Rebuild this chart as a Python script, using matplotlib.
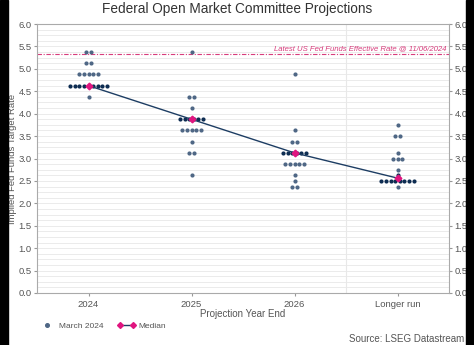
import matplotlib
matplotlib.use("Agg")
import matplotlib.pyplot as plt
from matplotlib.lines import Line2D
from matplotlib.legend_handler import HandlerLine2D
from matplotlib.patches import Rectangle
import numpy as np

plt.rcParams['font.family'] = ['Liberation Sans', 'DejaVu Sans']

# FOMC dot plot, March 2024: rate level -> number of participants
categories = ['2024', '2025', '2026', 'Longer run']
dot_levels = [
    [5.375, 5.125, 4.875, 4.625, 4.375],
    [5.375, 4.375, 4.125, 3.875, 3.625, 3.375, 3.125, 2.625],
    [4.875, 3.625, 3.375, 3.125, 2.875, 2.625, 2.5, 2.375],
    [3.75, 3.5, 3.125, 3.0, 2.75, 2.625, 2.5, 2.375],
]
dot_counts = [
    [2, 2, 5, 9, 1],
    [1, 2, 1, 6, 5, 1, 2, 1],
    [1, 1, 2, 6, 5, 1, 1, 2],
    [1, 2, 1, 3, 1, 1, 8, 1],
]
medians = [4.625, 3.875, 3.125, 2.5625]
effr = 5.33
effr_label = 'Latest US Fed Funds Effective Rate @ 11/06/2024'

DOT = '#4f6785'
DOT_DARK = '#0e2d52'
LINE = '#1d3d63'
PINK = '#e0157f'
EFFR_COL = '#d83c7c'
TXT = '#555555'
GRID = '#e8e8e8'

fig = plt.figure(figsize=(4.74, 3.45), dpi=100)
ax = fig.add_axes([37/474, 1-293/345, 412/474, 269/345])

step = 0.045
for i, (levels, counts) in enumerate(zip(dot_levels, dot_counts)):
    for lev, n in zip(levels, counts):
        xs = i + (np.arange(n) - (n - 1) / 2) * step
        col = DOT_DARK if abs(lev - medians[i]) < 0.07 else DOT
        ax.scatter(xs, [lev] * n, s=9, color=col, zorder=3, linewidths=0)

x = np.arange(len(categories))
ax.plot(x, medians, color=LINE, lw=1.0, zorder=4)
ax.plot(x, medians, ls='none', marker='D', ms=3.4, color=PINK, zorder=5)

ax.axhline(effr, color=EFFR_COL, lw=0.8, ls=(0, (4, 1.5, 1, 1.5)), zorder=2)
ax.text(3.47, effr + 0.05, effr_label, color=EFFR_COL, fontsize=5.6, style='italic',
        ha='right', va='bottom')

ax.set_xlim(-0.5, 3.5)
ax.set_ylim(0, 6)
ax.set_yticks(np.arange(0, 6.01, 0.5))
ax.set_yticks(np.arange(0, 6.01, 0.125), minor=True)
ax.yaxis.set_major_formatter(matplotlib.ticker.FormatStrFormatter('%.1f'))
ax.grid(True, axis='y', which='both', color=GRID, lw=0.6, zorder=0)
ax.axvline(2.5, color=GRID, lw=0.8, zorder=0)
ax.set_xticks(x)
ax.set_xticklabels(categories)
ax.tick_params(axis='y', which='minor', length=0)
ax.tick_params(axis='y', which='major', length=2, color='#999999', labelsize=6.8,
               labelcolor=TXT, left=True, right=True, labelleft=True, labelright=True, pad=2)
ax.tick_params(axis='x', length=2.5, color='#999999', labelsize=6.8, labelcolor=TXT, pad=2.5)
for sp in ax.spines.values():
    sp.set_color('#aaaaaa')
    sp.set_linewidth(0.8)

ax.set_xlabel('Projection Year End', fontsize=7, color=TXT, labelpad=0)
ax.set_ylabel('Implied Fed Funds Target Rate', fontsize=6.8, color=TXT)
ax.yaxis.set_label_coords(-20/412, 0.5)
fig.text(0.5, 1 - 9/345, 'Federal Open Market Committee Projections', ha='center', va='center',
         fontsize=9.8, color='#333333')

handles = [
    Line2D([], [], ls='none', marker='o', ms=2.6, color=DOT),
    Line2D([], [], color=LINE, lw=1.0, marker='D', ms=3, mfc=PINK, mec=PINK),
]
fig.legend(handles, ['March 2024', 'Median'], loc='center left', ncol=2, frameon=False,
           bbox_to_anchor=(30/474, 1 - 326/345), fontsize=6, numpoints=2,
           handler_map={handles[0]: HandlerLine2D(numpoints=1)},
           handlelength=2.2, handletextpad=0.4, columnspacing=1.6, labelcolor=TXT)
fig.text(464/474, 1 - 339/345, 'Source: LSEG Datastream', ha='right', va='center',
         fontsize=7, color=TXT)

fig.patches.append(Rectangle((0, 0), 8/474, 1, transform=fig.transFigure, color='black'))
fig.patches.append(Rectangle((466/474, 0), 8/474, 1, transform=fig.transFigure, color='black'))

fig.savefig('out.png', dpi=100, facecolor='white')
